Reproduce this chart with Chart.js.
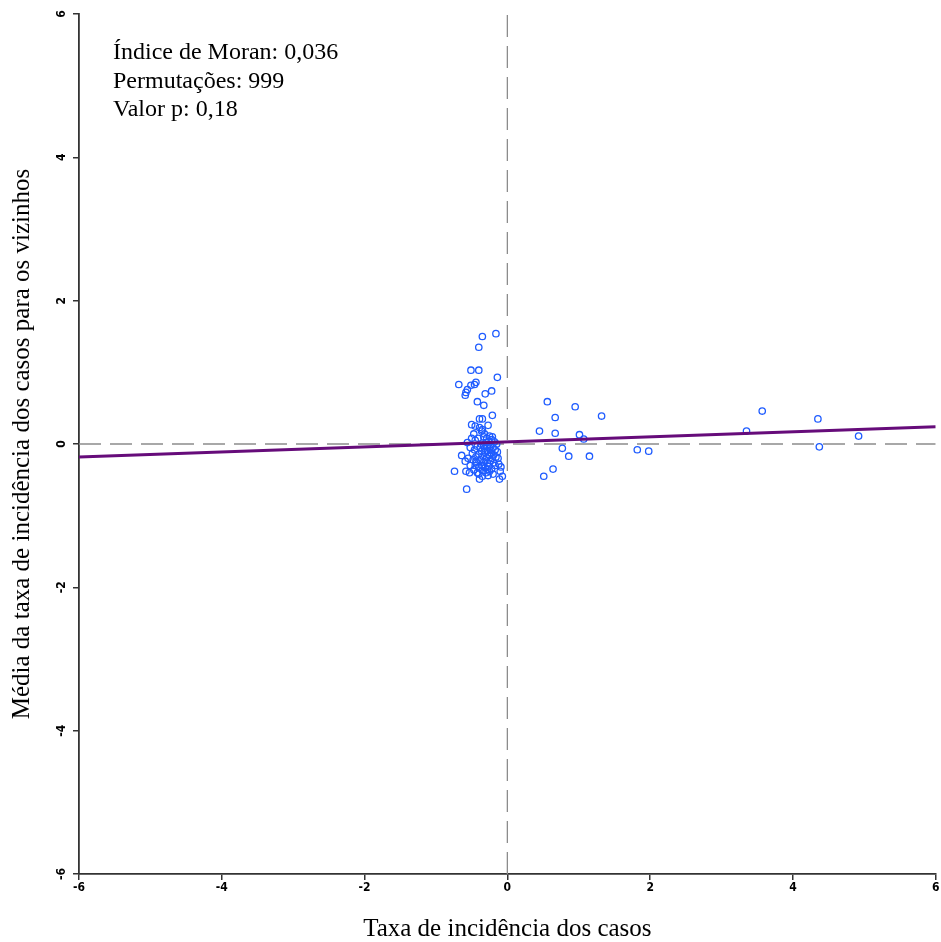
<!DOCTYPE html>
<html>
<head>
<meta charset="utf-8">
<script src="https://cdn.jsdelivr.net/npm/chart.js@4.4.1/dist/chart.umd.min.js"></script>
<style>
    html, body { margin: 0; padding: 0; background: #fff; }
    #wrap { width: 941px; height: 942px; }
</style>
</head>
<body>
<div id="wrap"><canvas id="moranChart" width="941" height="942"></canvas></div>
<script>
// Moran scatter: incidence rate (x) vs spatial lag (y)
const taxaX = [
    -0.16, -0.35, -0.40, -0.51, -0.40, -0.14, -0.68, -0.44, -0.46, -0.51,
    -0.56, -0.58, -0.59, -0.31, -0.22, -0.42, -0.33, -0.21, -0.39, -0.35,
    -0.50, -0.45, -0.39, -0.35, -0.32, -0.25, -0.21, -0.50, -0.45,
    -0.64, -0.59, -0.74, -0.58, -0.53, -0.39, -0.35, -0.09, -0.07, -0.11, -0.57,
    -0.30, -0.26, -0.22, -0.18, -0.15, -0.33, -0.28, -0.24, -0.20, -0.17,
    -0.38, -0.42, -0.46, -0.36, -0.31, -0.27, -0.23, -0.19, -0.14, -0.40,
    -0.44, -0.49, -0.34, -0.29, -0.25, -0.21, -0.16, -0.38, -0.43, -0.48,
    -0.33, -0.28, -0.24, -0.19, -0.36, -0.40, -0.45, -0.31, -0.26, -0.22,
    -0.17, -0.12, -0.35, -0.30, -0.25, -0.42, -0.47, -0.52, -0.55, -0.52,
    -0.56, -0.27, -0.20, -0.32, -0.37, -0.41, -0.29, -0.33, -0.13, -0.10,
    -0.47, -0.36, -0.27, -0.44, -0.31, -0.23, -0.34, -0.28, -0.40, -0.25,
    0.56, 0.95, 0.67, 1.32, 0.45, 0.67, 1.01, 1.07, 0.77, 0.86,
    1.15, 1.82, 1.98, 0.64, 0.51, 3.57, 3.35, 4.35, 4.92, 4.37
];
const vizinhosY = [
    1.54, 1.50, 1.35, 1.03, 1.03, 0.93, 0.83, 0.86, 0.83, 0.82,
    0.76, 0.72, 0.68, 0.70, 0.74, 0.59, 0.54, 0.40, 0.35, 0.35,
    0.27, 0.25, 0.23, 0.20, 0.14, 0.11, 0.10, 0.08, 0.05,
    -0.16, -0.24, -0.38, -0.38, -0.40, -0.49, -0.45, -0.32, -0.45, -0.49, -0.63,
    0.02, 0.04, 0.06, 0.03, 0.00, -0.02, -0.04, -0.01, -0.05, -0.08,
    -0.05, -0.03, -0.08, -0.10, -0.12, -0.09, -0.13, -0.15, -0.11, -0.14,
    -0.18, -0.13, -0.17, -0.19, -0.16, -0.20, -0.18, -0.22, -0.26, -0.22,
    -0.25, -0.27, -0.23, -0.26, -0.30, -0.33, -0.30, -0.33, -0.31, -0.35,
    -0.30, -0.28, -0.37, -0.40, -0.38, -0.40, -0.36, -0.30, -0.20, -0.05,
    0.02, -0.44, -0.42, -0.06, 0.00, 0.08, 0.08, 0.10, -0.20, -0.38,
    0.14, 0.18, 0.26, -0.24, -0.22, -0.09, -0.31, -0.35, -0.42, -0.06,
    0.59, 0.52, 0.37, 0.39, 0.18, 0.15, 0.13, 0.07, -0.06, -0.17,
    -0.17, -0.08, -0.10, -0.35, -0.45, 0.46, 0.18, 0.35, 0.11, -0.04
];
const tickValues = [-6, -4, -2, 0, 2, 4, 6];
const regLineX = [-6, 6];
const regLineY = [-0.18, 0.24];
const infoLines = ['Índice de Moran: 0,036', 'Permutações: 999', 'Valor p: 0,18'];

const pontos = taxaX.map((x, i) => ({ x: x, y: vizinhosY[i] }));
const regressao = regLineX.map((x, i) => ({ x: x, y: regLineY[i] }));

const serif = '"Liberation Serif", "Times New Roman", serif';
const tickFont = '"Liberation Sans Narrow", "DejaVu Sans Condensed", Arial, sans-serif';

// Rotated y tick labels and the statistics text
const extras = {
    id: 'extras',
    afterDraw(chart) {
        const c = chart.ctx;
        const y = chart.scales.y;
        c.save();
        c.fillStyle = '#000';
        c.font = 'bold 12px ' + tickFont;
        c.textAlign = 'center';
        c.textBaseline = 'middle';
        tickValues.forEach(v => {
            c.save();
            c.translate(62, y.getPixelForValue(v));
            c.rotate(-Math.PI / 2);
            c.fillText(String(v), 0, 0);
            c.restore();
        });
        c.font = '24px ' + serif;
        c.textAlign = 'left';
        infoLines.forEach((t, i) => c.fillText(t, 113, 53 + i * 28.5));
        c.restore();
    }
};

const ctx = document.getElementById('moranChart').getContext('2d');
new Chart(ctx, {
    type: 'scatter',
    data: {
        datasets: [{
            type: 'line',
            data: regressao,
            borderColor: '#660c7a',
            borderWidth: 3,
            pointRadius: 0,
            fill: false
        }, {
            data: pontos,
            pointStyle: 'circle',
            pointRadius: 3.2,
            borderWidth: 1.3,
            borderColor: '#1f5cff',
            backgroundColor: 'rgba(0,0,0,0)'
        }, {
            type: 'line',
            data: [{ x: -6, y: 0 }, { x: 6, y: 0 }],
            borderColor: '#8c8c8c',
            borderWidth: 1.3,
            borderDash: [22, 9],
            pointRadius: 0
        }, {
            type: 'line',
            data: [{ x: 0, y: -6 }, { x: 0, y: 6 }],
            borderColor: '#8c8c8c',
            borderWidth: 1.3,
            borderDash: [22, 9],
            pointRadius: 0
        }]
    },
    options: {
        responsive: false,
        animation: false,
        layout: { padding: { top: 14, right: 4, left: 0, bottom: 0 } },
        plugins: {
            legend: { display: false },
            tooltip: { enabled: false }
        },
        scales: {
            x: {
                type: 'linear',
                min: -6,
                max: 6,
                afterFit: s => { s.height = 68; },
                afterBuildTicks: s => { s.ticks = tickValues.map(v => ({ value: v })); },
                grid: { drawOnChartArea: false, drawTicks: true, tickLength: 6, color: '#333', lineWidth: 1.5 },
                border: { display: true, color: '#333', width: 1.8 },
                ticks: { color: '#000', font: { family: tickFont, size: 12, weight: 'bold' }, padding: 1, maxRotation: 0 },
                title: {
                    display: true,
                    text: 'Taxa de incidência dos casos',
                    color: '#000',
                    font: { family: serif, size: 25, lineHeight: 1.0 },
                    padding: { top: 0, bottom: 0 }
                }
            },
            y: {
                type: 'linear',
                min: -6,
                max: 6,
                afterFit: s => { s.width = 79; },
                afterBuildTicks: s => { s.ticks = tickValues.map(v => ({ value: v })); },
                grid: { drawOnChartArea: false, drawTicks: true, tickLength: 6, color: '#333', lineWidth: 1.5 },
                border: { display: true, color: '#333', width: 1.8 },
                ticks: { display: false },
                title: {
                    display: true,
                    text: 'Média da taxa de incidência dos casos para os vizinhos',
                    color: '#000',
                    font: { family: serif, size: 25, lineHeight: 1.0 },
                    padding: { top: 10, bottom: 0 }
                }
            }
        }
    },
    plugins: [extras]
});
</script>
</body>
</html>
